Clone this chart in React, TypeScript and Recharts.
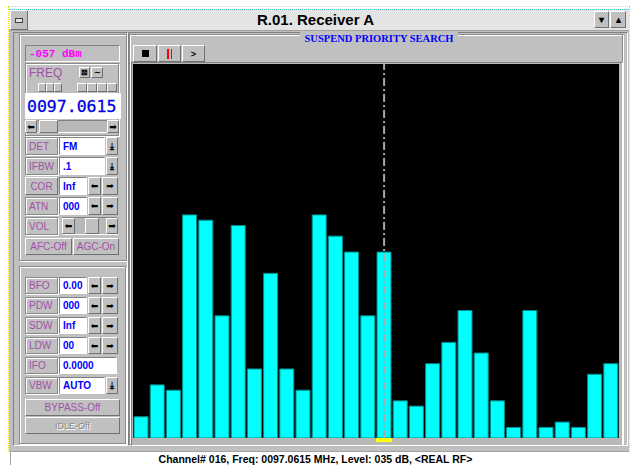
import React from 'react';
import { BarChart, Bar, XAxis, YAxis, CartesianGrid, ReferenceLine, ReferenceArea } from 'recharts';

// channel numbers on the scan, and the level (dB) read for each
const channels = ['001', '002', '003', '004', '005', '006', '007', '008', '009', '010',
  '011', '012', '013', '014', '015', '016', '017', '018', '019', '020',
  '021', '022', '023', '024', '025', '026', '027', '028', '029', '030'];
const levels = [4, 10, 9, 42, 41, 23, 40, 13, 31, 13, 9, 42, 38, 35, 23, 35, 7, 6, 14, 18, 24, 16, 7, 2, 24, 2, 3, 2, 12, 14];
const selectedChannel = '016';
const levelMax = 70.4;

const data = channels.map((ch, i) => ({ ch, level: levels[i] }));

const gray = '#c0c0c0';
const labelColor = '#a050a8';
const valueColor = '#0000ff';
const arrowL = '\u2b05';
const arrowR = '\u27a1';

const raised: React.CSSProperties = {
  background: gray, borderTop: '1px solid #fff', borderLeft: '1px solid #fff',
  borderRight: '1px solid #707070', borderBottom: '1px solid #707070', boxSizing: 'border-box',
};
const sunken: React.CSSProperties = {
  borderTop: '1px solid #808080', borderLeft: '1px solid #808080',
  borderRight: '1px solid #fff', borderBottom: '1px solid #fff', boxSizing: 'border-box',
};
const groove: React.CSSProperties = {
  border: '1px solid #8a8a8a', boxShadow: 'inset 1px 1px 0 #fff, 1px 1px 0 #fff', boxSizing: 'border-box',
};

type BoxProps = { x: number; y: number; w: number; h: number; style?: React.CSSProperties; children?: React.ReactNode };
function Box({ x, y, w, h, style, children }: BoxProps) {
  return <div style={{ position: 'absolute', left: x, top: y, width: w, height: h, ...style }}>{children}</div>;
}

const txt = (color: string, size = 10, bold = false): React.CSSProperties => ({
  fontFamily: 'Liberation Sans, Arial, sans-serif', fontSize: size, color, fontWeight: bold ? 'bold' : 'normal',
  display: 'flex', alignItems: 'center', whiteSpace: 'nowrap', overflow: 'hidden',
});

function Btn({ x, y, w, h, label, color = '#000', size = 10, bold = true, extra }: { x: number; y: number; w: number; h: number; label: string; color?: string; size?: number; bold?: boolean; extra?: React.CSSProperties }) {
  return (
    <Box x={x} y={y} w={w} h={h} style={{ ...raised, ...txt(color, size, bold), justifyContent: 'center', ...extra }}>{label}</Box>
  );
}

function Arrow({ x, y, w, h, left }: { x: number; y: number; w: number; h: number; left: boolean }) {
  return (
    <Box x={x} y={y} w={w} h={h} style={{ ...raised, ...txt('#000', 9), fontFamily: 'DejaVu Sans, sans-serif', justifyContent: 'center' }}>{left ? arrowL : arrowR}</Box>
  );
}

function Label({ y, label, h = 18, button = false }: { y: number; label: string; h?: number; button?: boolean }) {
  return (
    <Box x={25} y={y} w={33} h={h} style={{ ...(button ? raised : groove), ...txt(labelColor, 10), paddingLeft: button ? 0 : 3, justifyContent: button ? 'center' : 'flex-start' }}>{label}</Box>
  );
}

function Field({ x = 59, y, w, h = 18, value }: { x?: number; y: number; w: number; h?: number; value: string }) {
  return (
    <Box x={x} y={y} w={w} h={h} style={{ ...sunken, background: '#fff', ...txt(valueColor, 10, true), paddingLeft: 3 }}>{value}</Box>
  );
}

function ArrowRow({ y, h = 18 }: { y: number; h?: number }) {
  return (
    <>
      <Arrow x={88} y={y} w={13} h={h} left />
      <Arrow x={102} y={y} w={16} h={h} left={false} />
    </>
  );
}

function Drop({ y, h = 18 }: { y: number; h?: number }) {
  return <Btn x={106} y={y} w={12} h={h} label={'\u2913'} size={9} />;
}

function LeftPanel() {
  return (
    <>
      <Box x={19} y={34} w={108} h={227} style={groove} />
      <Box x={25} y={45} w={95} h={17} style={{ ...sunken, ...txt('#ff00ff', 11, true), fontFamily: 'Liberation Mono, monospace', paddingLeft: 3 }}>-057 dBm</Box>
      <Box x={25} y={63} w={94} h={73} style={groove} />
      <Box x={29} y={66} w={40} h={14} style={{ ...txt(labelColor, 12) }}>FREQ</Box>
      <Btn x={79} y={67} w={11} h={11} label={'\u22a0'} size={8} />
      <Btn x={91} y={67} w={12} h={11} label={'\u223c'} size={8} />
      {[38, 46, 54].map((bx) => <Box key={bx} x={bx} y={83} w={8} h={9} style={raised} />)}
      {[77, 87, 97, 107].map((bx) => <Box key={bx} x={bx} y={83} w={10} h={9} style={raised} />)}
      <Box x={25} y={93} w={94} h={26} style={{ background: '#fff', ...txt('#0000e0', 16.5), fontFamily: 'DejaVu Sans Mono, monospace', paddingLeft: 2, WebkitTextStroke: '0.3px #0000e0' }}>0097.0615</Box>
      <Box x={25} y={120} w={94} h={13} style={{ ...sunken, background: '#b8b8b8' }} />
      <Arrow x={25} y={120} w={12} h={13} left />
      <Box x={39} y={120} w={19} h={13} style={raised} />
      <Arrow x={107} y={120} w={12} h={13} left={false} />

      <Label y={137} label="DET" />
      <Field y={137} w={46} value="FM" />
      <Drop y={137} />
      <Label y={157} label="IFBW" />
      <Field y={157} w={46} value=".1" />
      <Drop y={157} />
      <Label y={177} label="COR" button />
      <Field y={177} w={28} value="Inf" />
      <ArrowRow y={177} />
      <Label y={197} label="ATN" />
      <Field y={197} w={28} value="000" />
      <ArrowRow y={197} />
      <Label y={217} label="VOL" />
      <Box x={62} y={217} w={56} h={18} style={{ ...sunken, background: '#b8b8b8' }} />
      <Arrow x={62} y={218} w={13} h={16} left />
      <Box x={85} y={218} w={14} h={16} style={raised} />
      <Arrow x={106} y={218} w={12} h={16} left={false} />
      <Btn x={25} y={238} w={47} h={17} label="AFC-Off" color={labelColor} bold={false} />
      <Btn x={73} y={238} w={46} h={17} label="AGC-On" color={labelColor} bold={false} />

      <Box x={19} y={266} w={107} h={178} style={groove} />
      <Label y={277} h={17} label="BFO" />
      <Field y={277} w={28} h={17} value="0.00" />
      <ArrowRow y={277} h={17} />
      <Label y={297} h={17} label="PDW" />
      <Field y={297} w={28} h={17} value="000" />
      <ArrowRow y={297} h={17} />
      <Label y={317} h={17} label="SDW" />
      <Field y={317} w={28} h={17} value="Inf" />
      <ArrowRow y={317} h={17} />
      <Label y={337} h={17} label="LDW" />
      <Field y={337} w={28} h={17} value="00" />
      <ArrowRow y={337} h={17} />
      <Label y={357} h={17} label="IFO" />
      <Field y={357} w={58} h={17} value="0.0000" />
      <Label y={377} h={17} label="VBW" />
      <Field y={377} w={46} h={17} value="AUTO" />
      <Drop y={377} h={17} />
      <Btn x={25} y={399} w={95} h={17} label="BYPASS-Off" color={labelColor} bold={false} />
      <Btn x={25} y={417} w={95} h={17} label="IDLE-Off" color="#8a8a8a" bold={false} size={9} extra={{ textShadow: '1px 1px 0 #fff' }} />
    </>
  );
}

function Scope() {
  return (
    <BarChart width={486} height={378} data={data} margin={{ top: 0, right: 0, bottom: 4, left: 0 }} barCategoryGap={1}>
      <CartesianGrid fill="#000" horizontal={false} vertical={false} stroke="none" />
      <XAxis dataKey="ch" hide />
      <YAxis hide domain={[0, levelMax]} allowDataOverflow />
      <Bar dataKey="level" fill="#00ffff" stroke="#008b8b" strokeWidth={1} isAnimationActive={false} />
      <ReferenceLine x={selectedChannel} stroke="#a8a8a8" strokeWidth={2} strokeDasharray="8 3 2 3" />
      <ReferenceArea x1={selectedChannel} x2={selectedChannel} y1={-0.75} y2={0} fill="#ffff00" fillOpacity={1} stroke="none" ifOverflow="visible" />
    </BarChart>
  );
}

export default function App() {
  return (
    <div style={{ position: 'absolute', left: 0, top: 0, width: 631, height: 465, background: '#fff', overflow: 'hidden' }}>
      <Box x={8} y={6} w={622} h={446} style={{ border: '1px dotted #e8e800', boxSizing: 'border-box' }} />
      <Box x={9} y={31} w={620} h={420} style={{ background: gray }} />
      <Box x={9} y={9} w={620} h={22} style={{ background: '#e4e4e4', borderTop: '1px dotted #40c0c0', borderBottom: '1px solid #a0a0a0', boxSizing: 'border-box' }} />
      <Box x={0} y={9} w={631} h={21} style={{ ...txt('#000', 15, true), justifyContent: 'center' }}>R.01. Receiver A</Box>
      <Box x={10} y={10} w={18} h={20} style={{ ...raised, display: 'flex', alignItems: 'center', justifyContent: 'center' }}>
        <div style={{ width: 6, height: 3, border: '1px solid #404040', background: '#e0e0e0' }} />
      </Box>
      <Btn x={594} y={11} w={15} h={17} label={'\u25be'} size={10} />
      <Btn x={610} y={11} w={16} h={17} label={'\u25b4'} size={10} />

      <Box x={13} y={32} w={115} h={414} style={sunken} />
      <Box x={128} y={32} w={500} h={414} style={sunken} />
      <LeftPanel />

      <Box x={129} y={34} w={494} h={411} style={groove} />
      <Box x={300} y={31} w={158} h={14} style={{ background: gray, ...txt('#0000ff', 10.5, true), fontFamily: 'Liberation Serif, serif', justifyContent: 'center' }}>SUSPEND PRIORITY SEARCH</Box>
      <Box x={133} y={45} w={24} h={17} style={{ ...raised, display: 'flex', alignItems: 'center', justifyContent: 'center' }}>
        <div style={{ width: 7, height: 7, background: '#000' }} />
      </Box>
      <Box x={158} y={45} w={23} h={17} style={{ ...raised, display: 'flex', alignItems: 'center', justifyContent: 'center', gap: 2 }}>
        <div style={{ width: 1.5, height: 10, background: '#ff0000' }} />
        <div style={{ width: 1.5, height: 10, background: '#ff0000' }} />
      </Box>
      <Btn x={182} y={45} w={23} h={17} label=">" size={9} />
      <Box x={131} y={62} w={492} h={384} style={{ ...sunken, background: '#b8b8b8' }} />
      <Box x={133} y={64} w={486} h={378}>
        <Scope />
      </Box>

      <Box x={10} y={451} w={619} h={14} style={{ background: '#fff', borderTop: '1px solid #a0a0a0', borderLeft: '1px solid #a0a0a0', boxSizing: 'border-box' }} />
      <Box x={0} y={452} w={631} h={13} style={{ ...txt('#000', 10.5, true), justifyContent: 'center' }}>Channel# 016, Freq: 0097.0615 MHz, Level: 035 dB, &lt;REAL RF&gt;</Box>
    </div>
  );
}
